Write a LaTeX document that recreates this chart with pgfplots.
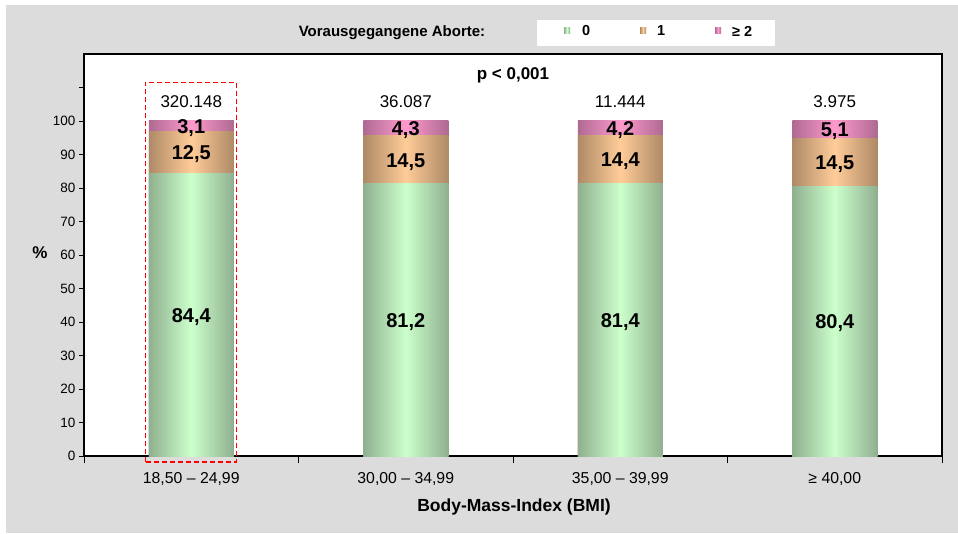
\documentclass[border=0pt]{standalone}
\usepackage{pgfplots}
\pgfplotsset{compat=1.18}
\usepackage{pgfplotstable}
\usepackage{fontspec}
\setmainfont{Liberation Sans}

\definecolor{panel}{HTML}{DCDCDC}
\definecolor{gEdge}{HTML}{8FB08F}
\definecolor{gMid}{HTML}{CCFFCC}
\definecolor{oEdge}{HTML}{AE8A66}
\definecolor{oMid}{HTML}{FFCC99}
\definecolor{pEdge}{HTML}{AE6A92}
\definecolor{pMid}{HTML}{FF9ACC}

% share (%) of previous abortions per BMI group
\pgfplotstableread{
x  a0    a1    a2
0  84.4  12.5  3.1
1  81.2  14.5  4.3
2  81.4  14.4  4.2
3  80.4  14.5  5.1
}\aborte

\newcommand{\fs}[1]{\fontsize{#1}{#1}\selectfont}

\tikzset{
  seg0/.style={left color=gEdge, right color=gEdge, middle color=gMid},
  seg1/.style={left color=oEdge, right color=oEdge, middle color=oMid},
  seg2/.style={left color=pEdge, right color=pEdge, middle color=pMid},
}

% one BMI group: each segment is its own path so it gets its own shading;
% segments are drawn from the top total downwards and overlap
\newcommand{\bmibar}[1]{%
  \addplot[forget plot, draw=none, seg2, restrict x to domain=#1:#1]
    table[x=x, y expr=\thisrow{a0}+\thisrow{a1}+\thisrow{a2}] {\aborte};
  \addplot[forget plot, draw=none, seg1, restrict x to domain=#1:#1]
    table[x=x, y expr=\thisrow{a0}+\thisrow{a1}] {\aborte};
  \addplot[forget plot, draw=none, seg0, restrict x to domain=#1:#1]
    table[x=x, y=a0] {\aborte};
}

\pgfplotsset{
  seglabel/.style={forget plot, draw=none, fill=none, point meta=explicit,
    nodes near coords={\pgfmathprintnumber[fixed,fixed zerofill,precision=1,use comma]{\pgfplotspointmeta}},
    every node near coord/.append style={font=\fs{20}\bfseries, black, anchor=center, inner sep=0pt, yshift=-2pt}},
}

\begin{document}
\begin{tikzpicture}[x=1pt,y=1pt]
\useasboundingbox (0,0) rectangle (958,533);
\fill[white] (0,0) rectangle (958,533);
\fill[panel] (6,0) rectangle (958,528);

% legend
\node[font=\fs{15}\bfseries] at (392,500) {Vorausgegangene Aborte:};
\fill[white] (537,487) rectangle (775,513);
\fill[seg0] (564,499) rectangle (570,505);
\fill[seg1] (640,499) rectangle (646,505);
\fill[seg2] (715,499) rectangle (721,505);
\node[font=\fs{14.5}\bfseries, anchor=west, inner sep=0pt] at (582,502) {0};
\node[font=\fs{14.5}\bfseries, anchor=west, inner sep=0pt] at (657,502) {1};
\node[font=\fs{14.5}\bfseries, anchor=west, inner sep=0pt] at (732,502) {≥ 2};

\begin{axis}[
  at={(84pt,77pt)}, anchor=south west,
  scale only axis, width=858pt, height=402pt,
  ybar, bar width=85pt, bar shift=0pt,
  xmin=-0.5, xmax=3.5, ymin=0, ymax=120,
  axis background/.style={fill=white},
  axis line style={line width=1.6pt, black},
  clip=false,
  xtick={0,1,2,3},
  xticklabels={{18,50 -- 24,99}, {30,00 -- 34,99}, {35,00 -- 39,99}, {≥ 40,00}},
  xticklabel style={font=\fs{15.8}, yshift=-8pt},
  xtick style={draw=none},
  extra x ticks={-0.5,0.5,1.5,2.5,3.5},
  extra x tick labels={},
  extra x tick style={major tick length=7pt, xtick style={draw=black, line width=0.6pt}},
  xtick pos=bottom, ytick pos=left,
  ytick={0,10,...,110},
  yticklabels={0,10,20,30,40,50,60,70,80,90,100,{}},
  yticklabel style={font=\fs{13.5}},
  /pgf/number format/assume math mode=true,
  ytick style={black, line width=0.6pt},
  major tick length=5pt, tick align=outside,
]
\bmibar{0}
\bmibar{1}
\bmibar{2}
\bmibar{3}

% segment values, written at the middle of each segment
\addplot[seglabel] table[x=x, y expr=\thisrow{a0}/2, meta=a0] {\aborte};
\addplot[seglabel] table[x=x, y expr=\thisrow{a0}+\thisrow{a1}/2, meta=a1] {\aborte};
\addplot[seglabel] table[x=x, y expr=\thisrow{a0}+\thisrow{a1}+\thisrow{a2}/2, meta=a2] {\aborte};

% case numbers above the bars
\node[font=\fs{17}] at (axis cs:0,105.7) {320.148};
\node[font=\fs{17}] at (axis cs:1,105.7) {36.087};
\node[font=\fs{17}] at (axis cs:2,105.7) {11.444};
\node[font=\fs{17}] at (axis cs:3,105.7) {3.975};
\node[font=\fs{17}\bfseries] at (axis cs:1.5,113.7) {p < 0,001};
% reference group highlighted
\draw[red, dash pattern=on 5pt off 3pt, line width=1.2pt] (axis cs:-0.214,-1.8) rectangle (axis cs:0.21,111.6);
\end{axis}

\node[font=\fs{17}\bfseries] at (40,280) {\%};
\node[font=\fs{17.5}\bfseries] at (514,26) {Body-Mass-Index (BMI)};
\end{tikzpicture}
\end{document}
